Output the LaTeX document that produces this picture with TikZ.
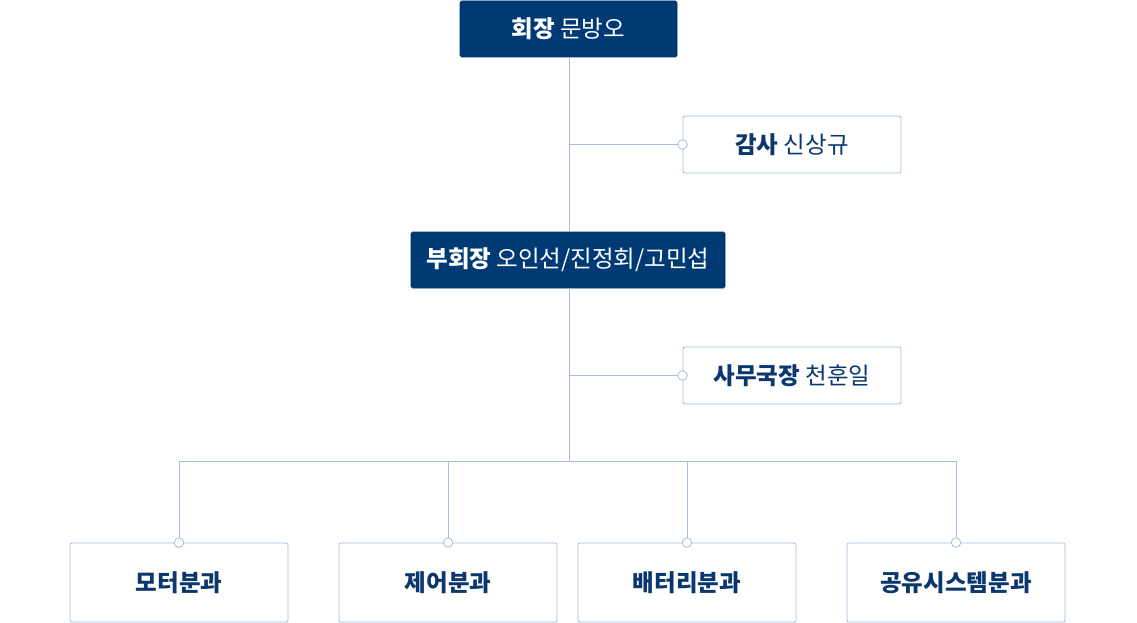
\documentclass[tikz,border=0pt]{standalone}
\usepackage{fontspec}
\setmainfont{Noto Sans CJK KR}
\definecolor{navy}{RGB}{0,58,117}
\definecolor{navytxt}{RGB}{10,55,110}
\definecolor{lineblue}{RGB}{165,188,222}
\begin{document}
\begin{tikzpicture}[x=1pt,y=-1pt,
  darkbox/.style={draw=navy!80!black, fill=navy, rounded corners=1.5pt, inner sep=0pt, text=white, font=\fontsize{23.5}{26}\selectfont, line width=0.6pt},
  lightbox/.style={draw=lineblue, fill=white, rounded corners=2pt, inner sep=0pt, text=navytxt, font=\fontsize{23.5}{26}\selectfont, line width=0.8pt},
  conn/.style={draw=lineblue, line width=0.8pt},
  dot/.style={circle, draw=lineblue, fill=white, inner sep=0pt, minimum size=9.5pt, line width=0.8pt}
]
\useasboundingbox (0,0) rectangle (1137,623);
\node[darkbox, minimum width=217pt, minimum height=56pt] (chair) at (568.5,29) {\textbf{회장} 문방오};
\node[lightbox, minimum width=218pt, minimum height=57pt] (audit) at (792,144.5) {\textbf{감사} 신상규};
\node[darkbox, minimum width=314pt, minimum height=56pt] (vice) at (568,260) {\textbf{부회장} 오인선/진정회/고민섭};
\node[lightbox, minimum width=218pt, minimum height=57pt] (office) at (792,375.5) {\textbf{사무국장} 천훈일};
\node[lightbox, minimum width=218pt, minimum height=79pt] (motor) at (179,582.5) {\textbf{모터분과}};
\node[lightbox, minimum width=218pt, minimum height=79pt] (ctrl) at (448,582.5) {\textbf{제어분과}};
\node[lightbox, minimum width=218pt, minimum height=79pt] (batt) at (687,582.5) {\textbf{배터리분과}};
\node[lightbox, minimum width=218pt, minimum height=79pt] (share) at (956,582.5) {\textbf{공유시스템분과}};
\coordinate (bus) at (569,461);
\coordinate (a1) at (569,144.5);
\coordinate (a2) at (569,375.5);
\draw[conn] (569,57) -- (569,232);
\draw[conn] (569,288) -- (bus);
\draw[conn] (a1) -- (audit.west);
\draw[conn] (a2) -- (office.west);
\draw[conn] (motor.north) -- (motor.north |- bus) -- (share.north |- bus) -- (share.north);
\draw[conn] (ctrl.north) -- (ctrl.north |- bus);
\draw[conn] (batt.north) -- (batt.north |- bus);
\node[dot] (d1) at (audit.west) {};
\node[dot] (d2) at (office.west) {};
\node[dot] (d3) at (motor.north) {};
\node[dot] (d4) at (ctrl.north) {};
\node[dot] (d5) at (batt.north) {};
\node[dot] (d6) at (share.north) {};
\end{tikzpicture}
\end{document}
